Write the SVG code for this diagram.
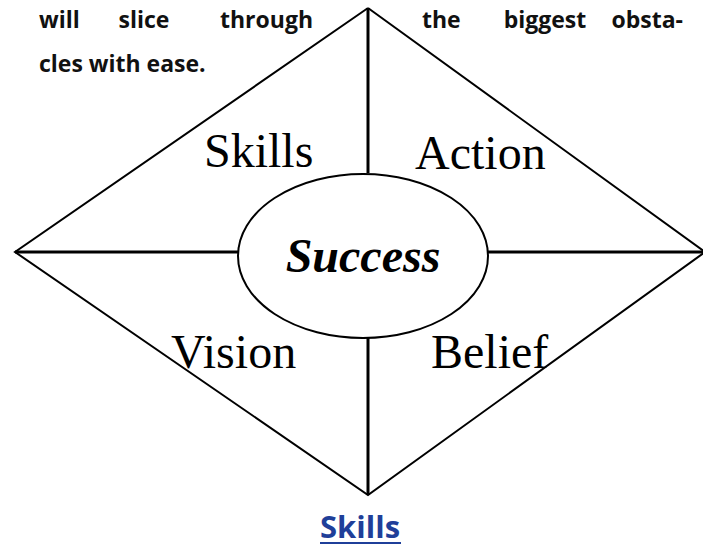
<svg xmlns="http://www.w3.org/2000/svg" width="703" height="546" viewBox="0 0 703 546">
<style>
.para{font-family:"Open Sans","Noto Sans",sans-serif;font-weight:700;font-size:23px;fill:#111}
.lbl{font-family:"Liberation Serif","Times New Roman",serif;font-size:48px;fill:#000}
.center{font-family:"Liberation Serif","Times New Roman",serif;font-size:48px;font-weight:700;font-style:italic;fill:#000}
.thin{stroke:#000;stroke-width:2;fill:none}
.thick{stroke:#000;stroke-width:3;fill:none}
.link{font-family:"Open Sans","Noto Sans",sans-serif;font-weight:700;font-size:31px;fill:#1f3f99}
</style>
<rect width="703" height="546" fill="#fff"/>
<g id="paragraph">
<text class="para" x="39" y="28">will</text>
<text class="para" x="144" y="28" text-anchor="middle">slice</text>
<text class="para" x="313" y="28" text-anchor="end">through</text>
<text class="para" x="422" y="28">the</text>
<text class="para" x="545" y="28" text-anchor="middle">biggest</text>
<text class="para" x="683" y="28" text-anchor="end">obsta-</text>
<text class="para" x="39" y="72">cles with ease.</text>
</g>
<g id="connectors">
<polyline class="thin" points="368,8 15,252 368,495 705,252 368,8"/>
<line class="thick" x1="368" y1="8" x2="368" y2="173"/>
<line class="thick" x1="368" y1="338" x2="368" y2="495"/>
<line class="thick" x1="15" y1="252" x2="238" y2="252"/>
<line class="thick" x1="488" y1="252" x2="705" y2="252"/>
</g>
<g id="success">
<ellipse class="thin" cx="363" cy="256" rx="125" ry="82"/>
<text class="center" x="363" y="272" text-anchor="middle">Success</text>
</g>
<g id="skills"><text class="lbl" x="204" y="167">Skills</text></g>
<g id="action"><text class="lbl" x="415" y="169">Action</text></g>
<g id="vision"><text class="lbl" x="171" y="368">Vision</text></g>
<g id="belief"><text class="lbl" x="431" y="368">Belief</text></g>
<g id="skills-link">
<text class="link" x="360" y="538" text-anchor="middle">Skills</text>
<line x1="320" y1="543" x2="401" y2="543" stroke="#1f3f99" stroke-width="2"/>
</g>
</svg>
